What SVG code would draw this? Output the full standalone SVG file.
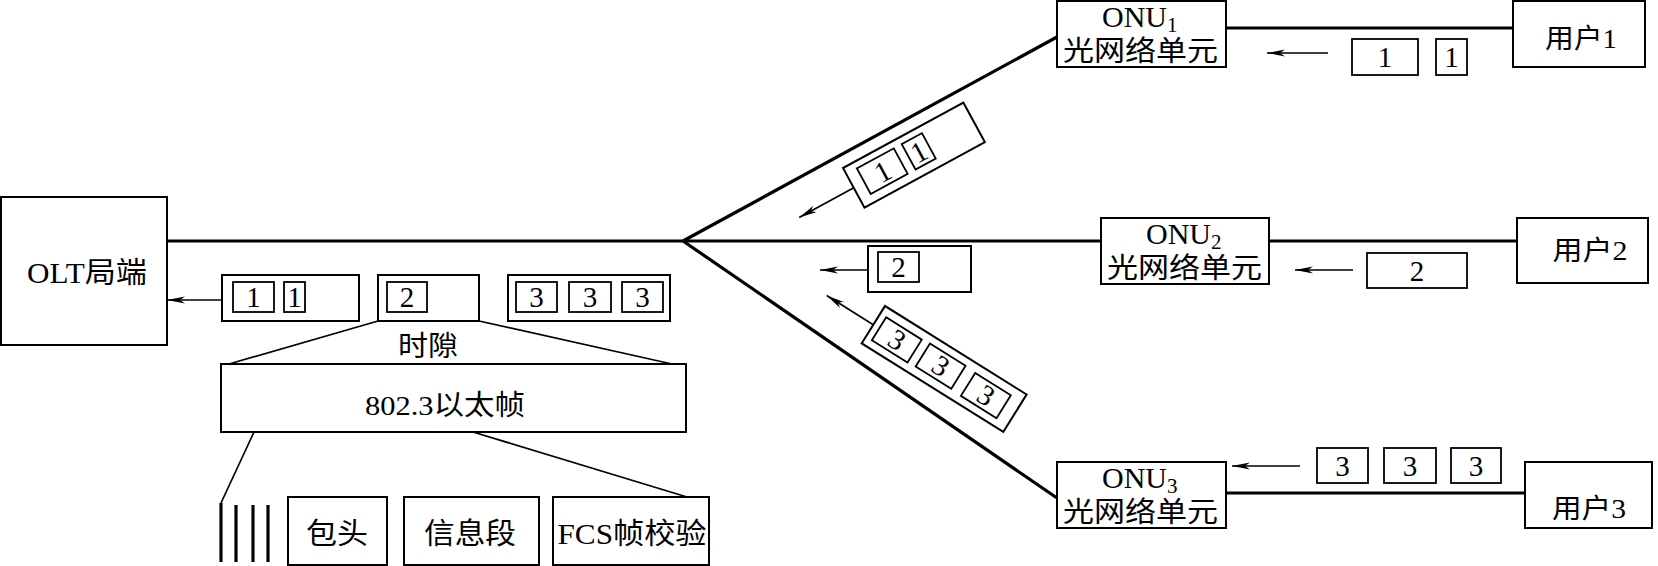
<svg xmlns="http://www.w3.org/2000/svg" width="1658" height="566" viewBox="0 0 1658 566">
<defs>
<style>
.bx{fill:#fff;stroke:#000;stroke-width:2}
.ib{fill:none;stroke:#000;stroke-width:1.8}
.fib{fill:none;stroke:#000;stroke-width:3.2}
.thin{fill:none;stroke:#000;stroke-width:1.7}
.arr{fill:none;stroke:#000;stroke-width:1.7;marker-end:url(#ah)}
.t{font-family:"Liberation Serif","Noto Sans CJK SC",serif;fill:#000}
.c{text-anchor:middle}
.d{font-family:"Liberation Serif",serif;font-size:29px;fill:#000;text-anchor:middle}
.sub{font-size:21px}
</style>
<marker id="ah" markerWidth="20" markerHeight="10" refX="18" refY="5" orient="auto" markerUnits="userSpaceOnUse">
<path d="M0,1.5 L18,5 L0,8.5 L5,5 z" fill="#000"/>
</marker>
</defs>
<rect width="1658" height="566" fill="#fff"/>

<g id="connectors">
<polyline class="fib" points="167,241 1101,241"/>
<line class="fib" x1="683" y1="241" x2="1057" y2="37"/>
<line class="fib" x1="683" y1="241" x2="1057" y2="498"/>
<line class="fib" x1="1226" y1="28" x2="1513" y2="28"/>
<line class="fib" x1="1269" y1="241" x2="1517" y2="241"/>
<line class="fib" x1="1226" y1="493" x2="1525" y2="493"/>
<line class="thin" x1="378" y1="321" x2="229" y2="364"/>
<line class="thin" x1="479" y1="321" x2="672" y2="364"/>
<line class="thin" x1="254" y1="432" x2="221" y2="503"/>
<line class="thin" x1="473" y1="432" x2="687" y2="497"/>
<line class="arr" x1="222" y1="300" x2="167" y2="300"/>
<line class="arr" x1="868" y1="270" x2="820" y2="270"/>
<line class="arr" x1="853.7" y1="187.8" x2="799.2" y2="217.4"/>
<line class="arr" x1="873.3" y1="324.7" x2="826.7" y2="295.5"/>
<line class="arr" x1="1328" y1="53" x2="1267" y2="53"/>
<line class="arr" x1="1353" y1="270" x2="1295" y2="270"/>
<line class="arr" x1="1300" y1="466" x2="1232" y2="466"/>
</g>

<g id="olt">
<rect class="bx" x="1" y="197" width="166" height="148"/>
<text class="t c" x="87" y="283" font-size="29" textLength="120" lengthAdjust="spacingAndGlyphs">OLT局端</text>
</g>

<g id="pkt-olt-1">
<rect class="bx" x="222" y="275" width="137" height="46"/>
<rect class="ib" x="233" y="282" width="41" height="30"/>
<rect class="ib" x="284" y="282" width="21" height="30"/>
<text class="d" x="253.5" y="307">1</text>
<text class="d" x="294.5" y="307">1</text>
</g>

<g id="slot-2">
<rect class="bx" x="378" y="275" width="101" height="46"/>
<rect class="ib" x="387" y="282" width="40" height="30"/>
<text class="d" x="407" y="307">2</text>
<text class="t c" x="428" y="356" font-size="28" textLength="60" lengthAdjust="spacingAndGlyphs">时隙</text>
</g>

<g id="pkt-olt-3">
<rect class="bx" x="508" y="275" width="162" height="46"/>
<rect class="ib" x="516" y="282" width="41" height="30"/>
<rect class="ib" x="569" y="282" width="42" height="30"/>
<rect class="ib" x="622" y="282" width="41" height="30"/>
<text class="d" x="536.5" y="307">3</text>
<text class="d" x="590" y="307">3</text>
<text class="d" x="642.5" y="307">3</text>
</g>

<g id="frame-8023">
<rect class="bx" x="221" y="364" width="465" height="68"/>
<text class="t c" x="445" y="415" font-size="28" textLength="160" lengthAdjust="spacingAndGlyphs">802.3以太帧</text>
</g>

<g id="bits">
<line class="fib" x1="221" y1="503" x2="221" y2="562"/>
<line class="fib" x1="236" y1="505" x2="236" y2="562"/>
<line class="fib" x1="253" y1="505" x2="253" y2="562"/>
<line class="fib" x1="268" y1="505" x2="268" y2="562"/>
</g>

<g id="hdr">
<rect class="bx" x="288" y="497" width="99" height="68"/>
<text class="t c" x="337" y="544" font-size="29" textLength="62" lengthAdjust="spacingAndGlyphs">包头</text>
</g>
<g id="info">
<rect class="bx" x="404" y="497" width="135" height="68"/>
<text class="t c" x="470" y="544" font-size="29" textLength="92" lengthAdjust="spacingAndGlyphs">信息段</text>
</g>
<g id="fcs">
<rect class="bx" x="553" y="497" width="156" height="68"/>
<text class="t c" x="632" y="544" font-size="29" textLength="149" lengthAdjust="spacingAndGlyphs">FCS帧校验</text>
</g>

<g id="onu1">
<rect class="bx" x="1057" y="1" width="169" height="66"/>
<text class="t" x="1102" y="27" font-size="30">ONU<tspan class="sub" dy="5">1</tspan></text>
<text class="t" x="1063" y="61" font-size="28" textLength="155" lengthAdjust="spacingAndGlyphs">光网络单元</text>
</g>
<g id="onu2">
<rect class="bx" x="1101" y="218" width="168" height="66"/>
<text class="t" x="1146" y="244" font-size="30">ONU<tspan class="sub" dy="5">2</tspan></text>
<text class="t" x="1107" y="278" font-size="28" textLength="155" lengthAdjust="spacingAndGlyphs">光网络单元</text>
</g>
<g id="onu3">
<rect class="bx" x="1057" y="462" width="169" height="66"/>
<text class="t" x="1102" y="488" font-size="30">ONU<tspan class="sub" dy="5">3</tspan></text>
<text class="t" x="1063" y="522" font-size="28" textLength="155" lengthAdjust="spacingAndGlyphs">光网络单元</text>
</g>

<g id="user1">
<rect class="bx" x="1513" y="1" width="132" height="66"/>
<text class="t c" x="1581" y="48" font-size="27" textLength="72" lengthAdjust="spacingAndGlyphs">用户1</text>
</g>
<g id="user2">
<rect class="bx" x="1517" y="218" width="131" height="65"/>
<text class="t c" x="1590" y="260" font-size="27" textLength="75" lengthAdjust="spacingAndGlyphs">用户2</text>
</g>
<g id="user3">
<rect class="bx" x="1525" y="462" width="127" height="66"/>
<text class="t c" x="1589" y="518" font-size="27" textLength="74" lengthAdjust="spacingAndGlyphs">用户3</text>
</g>

<g id="pkt-u1">
<rect class="ib" x="1352" y="39" width="66" height="36"/>
<rect class="ib" x="1436" y="39" width="31" height="36"/>
<text class="d" x="1385" y="67">1</text>
<text class="d" x="1451.5" y="67">1</text>
</g>
<g id="pkt-u2">
<rect class="ib" x="1367" y="253" width="100" height="35"/>
<text class="d" x="1417" y="281">2</text>
</g>
<g id="pkt-u3">
<rect class="ib" x="1317" y="448" width="51" height="35"/>
<rect class="ib" x="1384" y="448" width="52" height="35"/>
<rect class="ib" x="1451" y="448" width="50" height="35"/>
<text class="d" x="1342.5" y="476">3</text>
<text class="d" x="1410" y="476">3</text>
<text class="d" x="1476" y="476">3</text>
</g>

<g id="pkt-f1" transform="translate(843,168) rotate(-28.5)">
<rect class="bx" x="0" y="0" width="137" height="45"/>
<rect class="ib" x="12" y="7" width="42" height="29"/>
<rect class="ib" x="63" y="7" width="23" height="29"/>
<text class="d" x="33" y="32">1</text>
<text class="d" x="74.5" y="32">1</text>
</g>
<g id="pkt-f2">
<rect class="bx" x="868" y="246" width="103" height="46"/>
<rect class="ib" x="878" y="252" width="41" height="30"/>
<text class="d" x="898.5" y="277">2</text>
</g>
<g id="pkt-f3" transform="translate(885,306) rotate(32)">
<rect class="bx" x="0" y="0" width="167" height="44"/>
<rect class="ib" x="7" y="9" width="42" height="27"/>
<rect class="ib" x="58" y="8" width="42" height="27"/>
<rect class="ib" x="112" y="9" width="42" height="27"/>
<text class="d" x="28" y="32">3</text>
<text class="d" x="79" y="31">3</text>
<text class="d" x="133" y="32">3</text>
</g>
</svg>
